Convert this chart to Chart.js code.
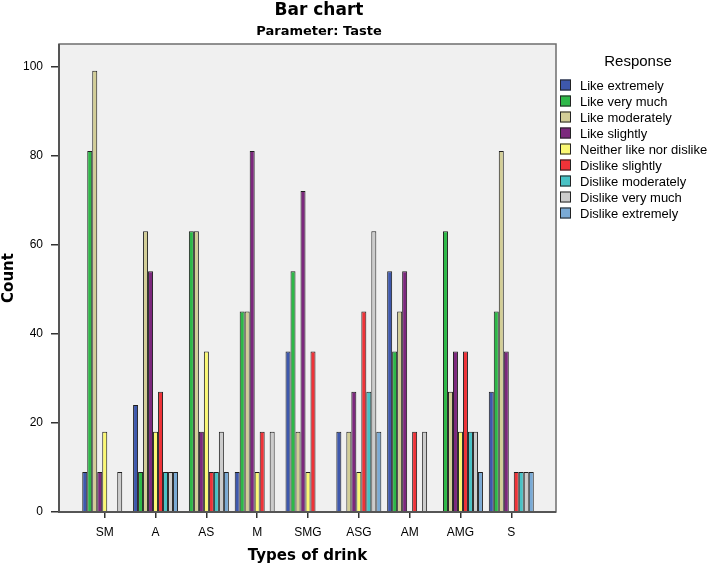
<!DOCTYPE html>
<html>
<head>
<meta charset="utf-8">
<title>Bar chart - Taste</title>
<script src="https://cdn.jsdelivr.net/npm/chart.js"></script>
<style>
  html, body { margin: 0; padding: 0; background: #fff; }
  #wrap { width: 713px; height: 568px; }
</style>
</head>
<body>
<div id="wrap"><canvas id="chart" width="713" height="568"></canvas></div>
<script>
// categories and responses
const drinks = ["SM", "A", "AS", "M", "SMG", "ASG", "AM", "AMG", "S"];
const responses = [
  "Like extremely",
  "Like very much",
  "Like moderately",
  "Like slightly",
  "Neither like nor dislike",
  "Dislike slightly",
  "Dislike moderately",
  "Dislike very much",
  "Dislike extremely",
];

// counts per response, one value per drink
const likeExtremely   = [9, 24, 0, 9, 36, 18, 54, 0, 27];
const likeVeryMuch    = [81, 9, 63, 45, 54, 0, 36, 63, 45];
const likeModerately  = [99, 63, 63, 45, 18, 18, 45, 27, 81];
const likeSlightly    = [9, 54, 18, 81, 72, 27, 54, 36, 36];
const neither         = [18, 18, 36, 9, 9, 9, 0, 18, 0];
const dislikeSlightly = [0, 27, 9, 18, 36, 45, 18, 36, 9];
const dislikeModer    = [0, 9, 9, 0, 0, 27, 0, 18, 9];
const dislikeVeryMuch = [9, 9, 18, 18, 0, 63, 18, 18, 9];
const dislikeExtreme  = [0, 9, 9, 0, 0, 18, 0, 9, 9];

const yTicks = [0, 20, 40, 60, 80, 100];

const COLORS = [
  "#3e58ac",
  "#2eb848",
  "#d3ce97",
  "#7c287d",
  "#fbf873",
  "#ef3338",
  "#48c2c5",
  "#cccccc",
  "#7aaad5",
];

const series = [
  likeExtremely, likeVeryMuch, likeModerately, likeSlightly, neither,
  dislikeSlightly, dislikeModer, dislikeVeryMuch, dislikeExtreme,
];

const FONT = "'Liberation Sans', Arial, sans-serif";
const BOLD_FONT = "'DejaVu Sans', Verdana, sans-serif";
Chart.defaults.font.family = FONT;
Chart.defaults.color = "#000";

// grey plot background, frame and the two titles on top
const plotFrame = {
  id: "plotFrame",
  beforeDatasetsDraw(chart) {
    const { ctx, chartArea: a } = chart;
    ctx.save();
    ctx.fillStyle = "#f0f0f0";
    ctx.fillRect(a.left, a.top, a.right - a.left, a.bottom - a.top);
    ctx.restore();
  },
  afterDatasetsDraw(chart) {
    const { ctx, chartArea: a } = chart;
    ctx.save();
    ctx.strokeStyle = "#6e6e6e";
    ctx.lineWidth = 1.5;
    ctx.strokeRect(a.left, a.top, a.right - a.left, a.bottom - a.top);
    ctx.lineWidth = 2;
    ctx.strokeStyle = "#555";
    ctx.beginPath();
    ctx.moveTo(a.left, a.top);
    ctx.lineTo(a.left, a.bottom);
    ctx.lineTo(a.right, a.bottom);
    ctx.stroke();

    ctx.fillStyle = "#000";
    ctx.textAlign = "center";
    ctx.textBaseline = "alphabetic";
    ctx.font = "bold 17px " + BOLD_FONT;
    ctx.fillText("Bar chart", 319, 15);
    ctx.font = "bold 13px " + BOLD_FONT;
    ctx.fillText("Parameter: Taste", 319, 35);
    ctx.restore();
  },
};

// legend drawn on the right like the SPSS one
const sideLegend = {
  id: "sideLegend",
  afterDraw(chart) {
    const { ctx } = chart;
    ctx.save();
    ctx.fillStyle = "#000";
    ctx.textBaseline = "middle";
    ctx.font = "15px " + FONT;
    ctx.textAlign = "center";
    ctx.fillText("Response", 638, 62);
    ctx.font = "13px " + FONT;
    ctx.textAlign = "left";
    chart.data.datasets.forEach((ds, i) => {
      const y = 85 + i * 16;
      ctx.fillStyle = ds.backgroundColor;
      ctx.fillRect(560, y - 5.5, 11, 11);
      ctx.strokeStyle = "#222";
      ctx.lineWidth = 1;
      ctx.strokeRect(560.5, y - 5, 10, 10);
      ctx.fillStyle = "#000";
      ctx.fillText(ds.label, 580, y + 1);
    });
    ctx.restore();
  },
};

new Chart(document.getElementById("chart"), {
  type: "bar",
  data: {
    datasets: responses.map((r, i) => ({
      label: r,
      data: series[i].map((v, j) => ({ x: j, y: v === 0 ? null : v })),
      backgroundColor: COLORS[i],
      borderColor: "#1f1f1f",
      borderWidth: 1,
      barPercentage: 1,
      categoryPercentage: 0.885,
    })),
  },
  options: {
    responsive: false,
    animation: false,
    layout: { padding: { left: 0, right: 157, top: 44, bottom: 0 } },
    plugins: {
      legend: { display: false },
      tooltip: { enabled: false },
    },
    scales: {
      x: {
        type: "linear",
        min: -0.9,
        max: 8.88,
        offset: false,
        afterBuildTicks: (axis) => {
          axis.ticks = drinks.map((d, i) => ({ value: i }));
        },
        afterFit: (axis) => {
          axis.height = 56;
        },
        grid: {
          offset: false,
          drawOnChartArea: false,
          drawTicks: true,
          tickLength: 6,
          color: "#333",
          lineWidth: 1.5,
        },
        border: { display: false },
        ticks: {
          font: { size: 12 },
          padding: 7,
          maxRotation: 0,
          callback: (v) => drinks[v],
        },
        title: {
          display: true,
          text: "Types of drink",
          font: { family: BOLD_FONT, size: 15, weight: "bold" },
          padding: { top: 0, bottom: 3 },
        },
      },
      y: {
        min: 0,
        max: 105,
        afterBuildTicks: (axis) => {
          axis.ticks = yTicks.map((v) => ({ value: v }));
        },
        afterFit: (axis) => {
          axis.width = 59;
        },
        grid: {
          drawOnChartArea: false,
          drawTicks: true,
          tickLength: 8,
          color: "#333",
          lineWidth: 1.5,
        },
        border: { display: false },
        ticks: { font: { size: 12 }, padding: 8 },
        title: {
          display: true,
          text: "Count",
          font: { family: BOLD_FONT, size: 15, weight: "bold" },
          padding: { top: 0, bottom: 0 },
        },
      },
    },
  },
  plugins: [plotFrame, sideLegend],
});
</script>
</body>
</html>
